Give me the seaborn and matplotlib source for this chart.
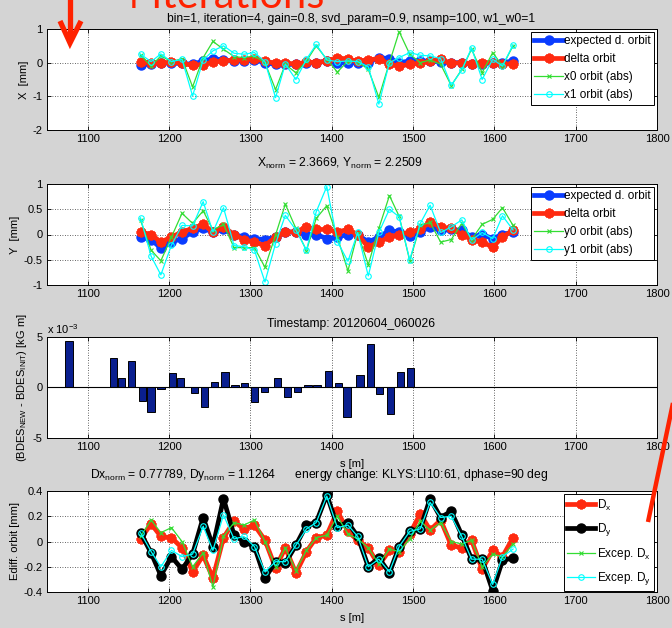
import numpy as np
import matplotlib
matplotlib.use("Agg")
import matplotlib.pyplot as plt
from matplotlib.lines import Line2D
import seaborn as sns

# BPM positions along the beamline [m]
s_bpm = [1165, 1178, 1190, 1203, 1216, 1229, 1242, 1254, 1267, 1280, 1292, 1305,
         1318, 1331, 1343, 1356, 1369, 1381, 1394, 1407, 1420, 1432, 1445, 1458,
         1471, 1483, 1496, 1509, 1521, 1534, 1547, 1560, 1572, 1585, 1598, 1610, 1623]

# Horizontal orbit [mm]
x_expected = [-0.08, -0.03, 0.0, -0.02, -0.02, -0.05, 0.05, 0.12, 0.08, 0.05, 0.05, 0.08,
              0.0, -0.05, -0.05, -0.05, 0.0, 0.0, 0.05, 0.0, 0.0, 0.0, 0.0, 0.15,
              0.12, 0.0, 0.05, 0.05, 0.05, 0.03, 0.0, 0.0, -0.03, -0.03, 0.0, 0.0, 0.05]
x_delta = [0.02, 0.0, -0.02, 0.02, -0.02, -0.08, -0.06, 0.02, 0.05, 0.08, 0.08, 0.12,
           0.05, -0.02, 0.0, -0.05, 0.02, 0.0, 0.05, 0.15, 0.1, 0.05, 0.08, 0.12,
           -0.05, -0.1, -0.05, -0.02, 0.05, 0.1, -0.02, 0.0, -0.03, 0.0, 0.0, -0.05, -0.03]
x0_abs = [0.22, -0.1, 0.2, 0.03, 0.12, -0.72, 0.15, 0.63, 0.4, 0.18, 0.15, 0.2,
          0.0, -0.8, -0.05, -0.3, 0.05, 0.5, 0.1, -0.28, 0.05, 0.03, -0.2, -1.03,
          0.0, 0.92, 0.25, 0.0, 0.08, -0.05, -0.68, -0.2, 0.4, -0.3, 0.3, -0.1, 0.5]
x1_abs = [0.25, 0.03, 0.26, 0.03, 0.1, -0.99, 0.08, 0.35, 0.5, 0.28, 0.25, 0.3,
          0.03, -1.04, -0.04, -0.5, 0.1, 0.54, 0.08, 0.03, 0.05, 0.03, -0.12, -1.23,
          0.0, 0.15, 0.3, 0.22, 0.2, 0.12, -0.67, -0.22, 0.44, -0.5, 0.1, -0.1, 0.53]

# Vertical orbit [mm]
y_expected = [-0.05, -0.1, -0.27, -0.15, -0.08, 0.05, 0.12, 0.05, 0.1, 0.0, -0.05, -0.08,
              -0.1, -0.05, 0.05, 0.05, 0.0, 0.0, -0.08, -0.05, 0.0, 0.0, -0.15, -0.05,
              0.08, 0.05, -0.02, 0.05, 0.15, 0.08, 0.1, 0.08, -0.05, 0.0, -0.08, 0.0, 0.05]
y_delta = [0.05, 0.0, -0.15, -0.05, 0.05, 0.12, 0.2, 0.05, 0.15, 0.0, -0.1, -0.15,
           -0.22, -0.05, 0.05, 0.05, 0.15, 0.1, 0.1, 0.05, 0.1, 0.0, -0.25, -0.15,
           -0.05, 0.0, 0.05, 0.1, 0.25, 0.15, 0.12, 0.0, -0.1, -0.15, -0.25, -0.05, 0.08]
y0_abs = [0.28, -0.31, -0.52, -0.05, 0.42, 0.22, 0.47, 0.09, 0.2, -0.26, -0.26, -0.26,
          -0.65, -0.01, 0.6, 0.12, -0.32, 0.32, 0.57, -0.05, -0.72, 0.03, -0.6, 0.12,
          0.77, 0.36, -0.52, 0.18, 0.24, -0.15, -0.1, 0.22, -0.1, 0.2, 0.3, 0.53, 0.18]
y1_abs = [0.33, -0.43, -0.8, -0.21, 0.18, 0.17, 0.65, 0.05, 0.53, -0.22, -0.24, -0.31,
          -0.94, -0.18, 0.38, 0.09, -0.31, 0.45, 0.95, -0.14, -0.53, 0.04, -0.82, 0.04,
          0.5, 0.35, -0.5, 0.22, 0.58, 0.04, 0.15, 0.29, -0.11, 0.04, -0.08, 0.37, 0.09]

# Corrector strength changes
s_corr = [1077, 1132, 1142, 1154, 1167, 1178, 1190, 1204, 1214, 1231, 1244, 1256,
          1269, 1281, 1293, 1305, 1317, 1333, 1346, 1358, 1371, 1382, 1396, 1408,
          1419, 1435, 1448, 1459, 1472, 1485, 1497]
bdes_change = [4.6e-3, 2.9e-3, 0.9e-3, 2.6e-3, -1.3e-3, -2.4e-3, -0.1e-3, 1.4e-3, 0.9e-3,
               -0.55e-3, -1.9e-3, 0.5e-3, 1.5e-3, 0.2e-3, 0.4e-3, -1.4e-3, -0.47e-3,
               0.9e-3, -0.94e-3, -0.4e-3, 0.2e-3, 0.2e-3, 1.6e-3, 0.47e-3, -2.9e-3,
               1.2e-3, 4.3e-3, -0.64e-3, -2.65e-3, 1.5e-3, 1.9e-3]

# Dispersion difference orbits [mm]
d_x = [0.02, 0.14, 0.04, 0.03, -0.05, -0.24, -0.11, -0.29, 0.03, 0.16, 0.1, 0.13,
       0.01, -0.21, -0.05, -0.25, -0.08, 0.03, 0.05, 0.24, 0.08, 0.01, -0.05, -0.19,
       -0.07, -0.08, 0.06, 0.22, 0.09, 0.17, -0.03, -0.05, 0.01, -0.22, -0.07, -0.12, 0.03]
d_y = [0.07, -0.09, -0.27, -0.12, -0.22, -0.1, 0.19, -0.04, 0.34, 0.05, 0.0, -0.04,
       -0.29, -0.16, -0.17, -0.03, 0.13, 0.15, 0.37, 0.12, 0.15, 0.04, -0.2, -0.13,
       -0.25, -0.04, 0.08, 0.1, 0.34, 0.19, 0.24, 0.05, -0.14, -0.14, -0.39, -0.15, -0.13]
exp_d_x = [0.04, 0.17, 0.07, 0.11, 0.0, -0.2, -0.09, -0.36, 0.04, 0.15, 0.13, 0.17,
           0.0, -0.2, -0.05, -0.23, -0.07, 0.03, 0.05, 0.2, 0.06, 0.02, -0.05, -0.18,
           -0.06, -0.08, 0.02, 0.16, 0.09, 0.15, 0.0, -0.02, 0.01, -0.2, -0.1, -0.12, -0.02]
exp_d_y = [0.07, -0.08, -0.2, -0.07, -0.12, -0.1, 0.12, -0.07, 0.21, 0.02, 0.04, -0.04,
           -0.24, -0.16, -0.16, -0.03, 0.1, 0.15, 0.36, 0.11, 0.13, 0.04, -0.2, -0.14,
           -0.24, -0.04, 0.08, 0.1, 0.31, 0.19, 0.2, 0.04, -0.14, -0.14, -0.34, -0.12, -0.06]

x_ticks = [1100, 1200, 1300, 1400, 1500, 1600, 1700, 1800]

# ---------------------------------------------------------------- style
FIG_BG = "#d4d4d4"
BLUE = "#0a3cff"
RED = "#ff2a10"
GREEN = "#33dd33"
CYAN = "#00ffff"
NAVY = "#0a1f8f"
ANNOT = "#ff2200"
FS = 8        # tick / axis label size
FS_T = 8.7    # title size
FS_L = 8.5    # legend size

plt.rcParams["font.family"] = ["Liberation Sans", "DejaVu Sans"]
plt.rcParams["mathtext.default"] = "regular"
plt.rcParams["axes.unicode_minus"] = False

W, H = 672, 628
fig = plt.figure(figsize=(W / 100, H / 100), dpi=100, facecolor=FIG_BG)


def rect(top_px, bottom_px, left_px=47, right_px=657):
    return [left_px / W, 1 - bottom_px / H, (right_px - left_px) / W, (bottom_px - top_px) / H]


def style_axes(ax, ylim, yticks, ylabels):
    ax.set_xlim(1050, 1800)
    ax.set_xticks(x_ticks)
    ax.set_xticklabels([str(t) for t in x_ticks], fontsize=FS)
    ax.set_ylim(*ylim)
    ax.set_yticks(yticks)
    ax.set_yticklabels(ylabels, fontsize=FS)
    ax.tick_params(direction="in", top=True, right=True, length=3, width=0.6, pad=3)
    ax.grid(True, linestyle=(0, (1, 2)), color="#333333", linewidth=0.6)
    ax.set_axisbelow(True)
    for sp in ax.spines.values():
        sp.set_linewidth(0.7)
        sp.set_color("black")
    ax.set_facecolor("white")
    ax.set_xlabel("")


def thick(ax, x, y, color, marker, label, ms=6.5, mew=1.0):
    sns.lineplot(x=x, y=y, ax=ax, color=color, lw=3.4, marker=marker, ms=ms,
                 mfc=color, mec=color, mew=mew, label=label, estimator=None, sort=False)


def thin(ax, x, y, color, marker, label, hollow=False):
    sns.lineplot(x=x, y=y, ax=ax, color=color, lw=0.9, marker=marker,
                 ms=4 if hollow else 3.5, mfc="none" if hollow else color,
                 mec=color, mew=0.8, label=label, estimator=None, sort=False)


def legend(ax, **kw):
    leg = ax.legend(loc="upper right", bbox_to_anchor=(1.0, 1.0), borderaxespad=0.25,
                    fontsize=FS_L, fancybox=False, framealpha=1, edgecolor="black",
                    handlelength=2.4, handletextpad=0.1, borderpad=0.3, **kw)
    leg.get_frame().set_linewidth(0.7)
    return leg


ASTER = (8, 2, 0)

# ---------------------------------------------------------------- X orbit
ax1 = fig.add_axes(rect(29, 130))
thick(ax1, s_bpm, x_expected, BLUE, "o", "expected d. orbit")
thick(ax1, s_bpm, x_delta, RED, ASTER, "delta orbit", ms=7, mew=2.0)
thin(ax1, s_bpm, x0_abs, GREEN, "x", "x0 orbit (abs)")
thin(ax1, s_bpm, x1_abs, CYAN, "o", "x1 orbit (abs)", hollow=True)
style_axes(ax1, (-2, 1), [-2, -1, 0, 1], ["-2", "-1", "0", "1"])
ax1.set_ylabel("X  [mm]", fontsize=FS, labelpad=3)
legend(ax1)

# ---------------------------------------------------------------- Y orbit
ax2 = fig.add_axes(rect(184, 285))
thick(ax2, s_bpm, y_expected, BLUE, "o", "expected d. orbit")
thick(ax2, s_bpm, y_delta, RED, ASTER, "delta orbit", ms=7, mew=2.0)
thin(ax2, s_bpm, y0_abs, GREEN, "x", "y0 orbit (abs)")
thin(ax2, s_bpm, y1_abs, CYAN, "o", "y1 orbit (abs)", hollow=True)
style_axes(ax2, (-1, 1), [-1, -0.5, 0, 0.5, 1], ["-1", "-0.5", "0", "0.5", "1"])
ax2.set_ylabel("Y  [mm]", fontsize=FS, labelpad=3)
legend(ax2)

# ---------------------------------------------------------------- corrector changes
ax3 = fig.add_axes(rect(337, 438))
sns.barplot(x=s_corr, y=bdes_change, ax=ax3, native_scale=True, width=0.9,
            color=NAVY, edgecolor="black", linewidth=0.7, errorbar=None,
            saturation=1, zorder=3)
style_axes(ax3, (-5e-3, 5e-3), [-5e-3, 0, 5e-3], ["-5", "0", "5"])
ax3.axhline(0, color="black", lw=0.8, zorder=4)
ax3.set_xlabel("s [m]", fontsize=FS, labelpad=5)
ax3.set_ylabel("(BDES$_{NEW}$ - BDES$_{INIT}$) [kG m]", fontsize=FS, labelpad=3)
ax3.text(0.0, 1.01, "x 10$^{-3}$", transform=ax3.transAxes, fontsize=FS,
         ha="left", va="bottom")

# ---------------------------------------------------------------- dispersion
ax4 = fig.add_axes(rect(491, 592))
thick(ax4, s_bpm, d_x, RED, ASTER, "D$_x$", ms=7, mew=2.0)
thick(ax4, s_bpm, d_y, "black", "o", "D$_y$")
thin(ax4, s_bpm, exp_d_x, GREEN, "x", "Excep. D$_x$")
thin(ax4, s_bpm, exp_d_y, CYAN, "o", "Excep. D$_y$", hollow=True)
style_axes(ax4, (-0.4, 0.4), [-0.4, -0.2, 0, 0.2, 0.4],
           ["-0.4", "-0.2", "0", "0.2", "0.4"])
ax4.set_xlabel("s [m]", fontsize=FS, labelpad=5)
ax4.set_ylabel("Ediff. orbit [mm]", fontsize=FS, labelpad=3)
legend(ax4, labelspacing=0.7)

# ---------------------------------------------------------------- titles
def ftext(xp, yp, s, **kw):
    fig.text(xp / W, 1 - yp / H, s, fontsize=FS_T, va="baseline", **kw)

ftext(351, 22, "bin=1, iteration=4, gain=0.8, svd_param=0.9, nsamp=100, w1_w0=1", ha="center")
ftext(257, 167, "X$_{norm}$ = 2.3669, Y$_{norm}$ = 2.2509", ha="left")
ftext(351, 327, "Timestamp: 20120604_060026", ha="center")
ftext(90, 478, "Dx$_{norm}$ = 0.77789, Dy$_{norm}$ = 1.1264      "
               "energy change: KLYS:LI10:61, dphase=90 deg", ha="left")

# ---------------------------------------------------------------- red annotations
fig.text(117 / W, 1 - 8 / H, "4 iterations", fontsize=30, color=ANNOT,
         family=["Lato", "DejaVu Sans"], ha="left", va="baseline")


def fline(pts, lw):
    xs = [p[0] / W for p in pts]
    ys = [1 - p[1] / H for p in pts]
    fig.add_artist(Line2D(xs, ys, color=ANNOT, lw=lw, solid_capstyle="butt",
                          solid_joinstyle="miter", transform=fig.transFigure))


fline([(70, -2), (70, 40)], 3.8)
fline([(60, 21), (70, 43), (81, 21)], 3.8)
fline([(648, 522), (673, 403)], 3.2)

fig.savefig("out.png", dpi=100, facecolor=FIG_BG)
